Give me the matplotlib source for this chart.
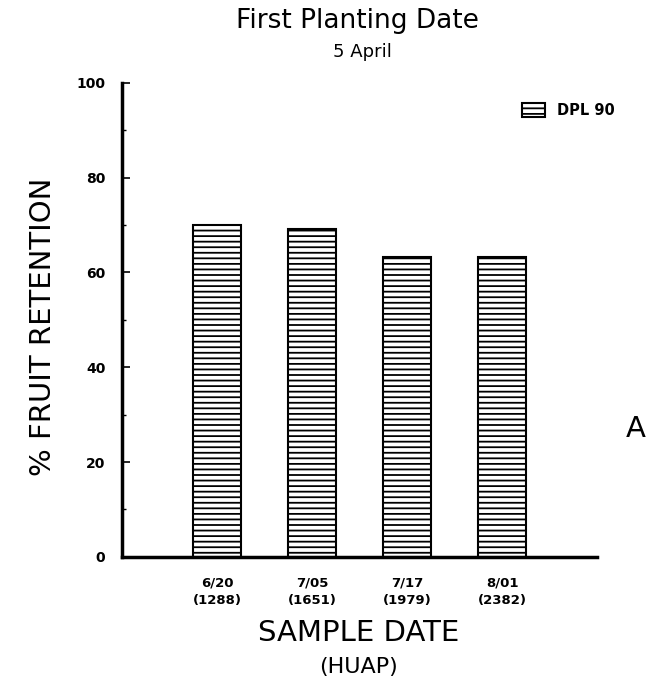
import numpy as np
import matplotlib
matplotlib.use('Agg')
import matplotlib.pyplot as plt
from matplotlib.ticker import MultipleLocator

# fruit retention by sample date, DPL 90, first planting (5 April)
dates = ['6/20', '7/05', '7/17', '8/01']
huap = ['(1288)', '(1651)', '(1979)', '(2382)']
retention = [70.0, 69.1, 63.2, 63.3]

plt.rcParams['hatch.linewidth'] = 1.3

fig = plt.figure(figsize=(6.49, 6.90), dpi=100)
ax = fig.add_axes([0.188, 0.193, 0.732, 0.687])

xpos = np.arange(1, len(dates) + 1)
ax.bar(xpos, retention, width=0.5, color='white', edgecolor='black',
       linewidth=1.5, hatch='---', label='DPL 90', zorder=2)

ax.set_xlim(0, 5)
ax.set_ylim(0, 100)
ax.set_xticks(xpos)
ax.set_xticklabels([d + '\n' + h for d, h in zip(dates, huap)],
                   fontsize=9.5, fontweight='bold', linespacing=1.5)
ax.yaxis.set_major_locator(MultipleLocator(20))
ax.yaxis.set_minor_locator(MultipleLocator(10))
ax.tick_params(axis='y', which='major', direction='in', length=6, width=1.2,
               pad=12, labelsize=10)
ax.tick_params(axis='y', which='minor', direction='in', length=3, width=1)
ax.tick_params(axis='x', length=0, pad=14)
for lab in ax.get_yticklabels():
    lab.set_fontweight('bold')

ax.spines['right'].set_visible(False)
ax.spines['top'].set_visible(False)
ax.spines['left'].set_linewidth(2.5)
ax.spines['bottom'].set_linewidth(2.5)

fig.text(0.066, 0.527, '% FRUIT RETENTION', fontsize=21, rotation=90,
         ha='center', va='center')
fig.text(0.552, 0.082, 'SAMPLE DATE', fontsize=21, ha='center', va='center')
fig.text(0.552, 0.033, '(HUAP)', fontsize=16, ha='center', va='center')

fig.text(0.55, 0.969, 'First Planting Date', fontsize=19, ha='center', va='center')
fig.text(0.558, 0.925, '5 April', fontsize=13, ha='center', va='center')
fig.text(0.98, 0.378, 'A', fontsize=21, ha='center', va='center')

ax.legend(loc='upper right', bbox_to_anchor=(1.065, 0.985), frameon=False,
          prop={'size': 10.5, 'weight': 'bold'}, handlelength=1.6,
          handleheight=1.1, handletextpad=0.8)

plt.savefig('out.png', dpi=100)
